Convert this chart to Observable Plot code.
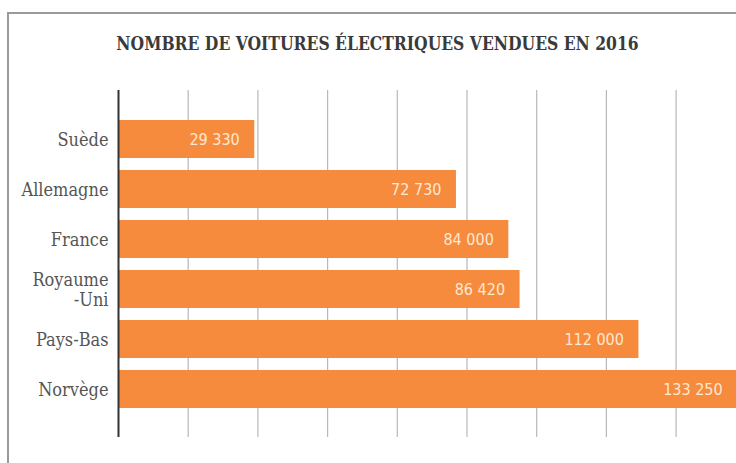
<!DOCTYPE html>
<html><head><meta charset="utf-8">
<script src="https://cdn.jsdelivr.net/npm/d3@7"></script>
<script src="https://cdn.jsdelivr.net/npm/@observablehq/plot@0.6"></script>
<style>
body{margin:0;background:#fff;}
#wrap{position:relative;width:736px;height:463px;overflow:hidden;background:#fff;}
#frame{position:absolute;left:7px;top:12px;width:800px;height:500px;border:2px solid #9a9a9a;box-sizing:border-box;}
#title{position:absolute;left:0;width:755px;top:32px;text-align:center;font-family:"DejaVu Serif Condensed","DejaVu Serif",serif;font-weight:bold;font-size:19px;color:#3a3a3a;white-space:nowrap;transform:scaleX(0.912);transform-origin:377.5px 0;}
#chart{position:absolute;left:0;top:0;}
</style></head><body>
<div id="wrap"><div id="frame"></div><div id="title">NOMBRE DE VOITURES ÉLECTRIQUES VENDUES EN 2016</div><div id="chart"></div></div>
<script>
const countries = ["Suède","Allemagne","France","Royaume-Uni","Pays-Bas","Norvège"];
const sales = [29330, 72730, 84000, 86420, 112000, 133250];
const valueLabels = ["29 330","72 730","84 000","86 420","112 000","133 250"];
const gridTicks = [15000, 30000, 45000, 60000, 75000, 90000, 105000, 120000];

const data = countries.map((c, i) => ({country: c, value: sales[i], label: valueLabels[i]}));

const plot = Plot.plot({
  width: 736, height: 463,
  marginLeft: 118, marginRight: 0, marginTop: 90, marginBottom: 26,
  x: {domain: [0, 133000], axis: null},
  y: {domain: countries, paddingInner: 0.24, paddingOuter: 0.12, insetTop: 22, insetBottom: 22, label: null, axis: null},
  style: {background: "transparent", overflow: "visible"},
  marks: [
    Plot.ruleX(gridTicks, {stroke: "#b8b8b8", strokeWidth: 1.2}),
    Plot.barX(data, {x: "value", y: "country", fill: "#f68b3d"}),
    Plot.ruleX([0], {stroke: "#333", strokeWidth: 2}),
    Plot.text(data, {x: "value", y: "country", text: "label", textAnchor: "end", dx: -15, fill: "#fde8d2", fontSize: 16, fontFamily: "DejaVu Sans Condensed"}),
    Plot.axisY({tickSize: 0, tickPadding: 10, fontSize: 18, lineHeight: 1.12, fontFamily: "DejaVu Serif Condensed", fill: "#555", label: null,
      tickFormat: d => d === "Royaume-Uni" ? "Royaume\n-Uni" : d})
  ]
});
document.getElementById("chart").append(plot);
</script>
</body></html>
